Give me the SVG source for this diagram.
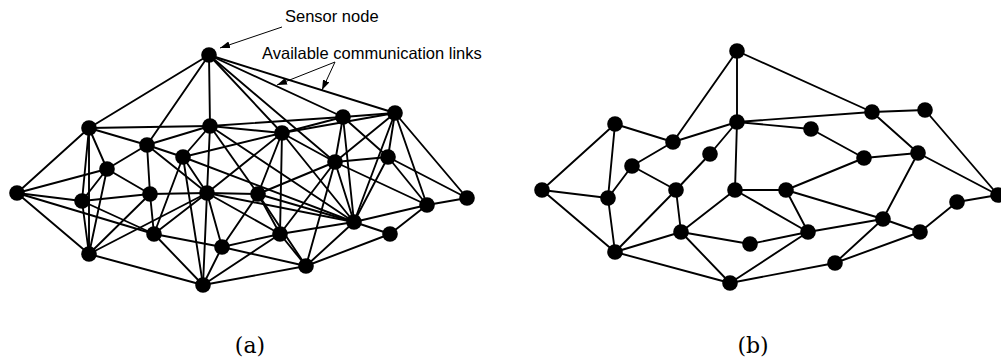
<svg xmlns="http://www.w3.org/2000/svg" width="1001" height="362" viewBox="0 0 1001 362">
<style>
.e line{stroke:#000;stroke-width:1.9;stroke-linecap:round}
.n circle{fill:#000}
.lbl{font-family:"Liberation Sans",Arial,sans-serif;font-size:16.5px;fill:#000}
.cap{font-family:"DejaVu Serif","Liberation Serif",serif;font-size:22px;fill:#000;text-anchor:middle}
.ann{stroke:#000;stroke-width:1;fill:none}
</style>
<defs>
<marker id="ah" markerWidth="10" markerHeight="7" refX="10" refY="3.5" orient="auto" markerUnits="userSpaceOnUse"><path d="M0,0 L10,3.5 L0,7 z" fill="#000"/></marker>
</defs>
<g id="connectors" class="e">
<line x1="209" y1="55" x2="89" y2="128"/><line x1="209" y1="55" x2="147" y2="145"/><line x1="209" y1="55" x2="210" y2="126"/><line x1="209" y1="55" x2="282" y2="133"/><line x1="209" y1="55" x2="335" y2="162"/><line x1="209" y1="55" x2="343" y2="117"/><line x1="209" y1="55" x2="395" y2="113"/>
<line x1="17" y1="193" x2="89" y2="128"/><line x1="17" y1="193" x2="107" y2="169"/><line x1="17" y1="193" x2="82" y2="201"/><line x1="17" y1="193" x2="154" y2="234"/><line x1="17" y1="193" x2="89" y2="254"/>
<line x1="89" y1="128" x2="147" y2="145"/><line x1="89" y1="128" x2="210" y2="126"/><line x1="89" y1="128" x2="107" y2="169"/><line x1="89" y1="128" x2="82" y2="201"/><line x1="89" y1="128" x2="89" y2="254"/>
<line x1="147" y1="145" x2="210" y2="126"/><line x1="147" y1="145" x2="107" y2="169"/><line x1="147" y1="145" x2="183" y2="157"/><line x1="147" y1="145" x2="150" y2="194"/><line x1="147" y1="145" x2="207" y2="193"/>
<line x1="210" y1="126" x2="183" y2="157"/><line x1="210" y1="126" x2="207" y2="193"/><line x1="210" y1="126" x2="282" y2="133"/><line x1="210" y1="126" x2="343" y2="117"/><line x1="210" y1="126" x2="258" y2="194"/><line x1="210" y1="126" x2="354" y2="222"/>
<line x1="107" y1="169" x2="82" y2="201"/><line x1="107" y1="169" x2="150" y2="194"/><line x1="107" y1="169" x2="89" y2="254"/>
<line x1="183" y1="157" x2="282" y2="133"/><line x1="183" y1="157" x2="207" y2="193"/><line x1="183" y1="157" x2="154" y2="234"/><line x1="183" y1="157" x2="203" y2="285"/><line x1="183" y1="157" x2="354" y2="222"/>
<line x1="82" y1="201" x2="150" y2="194"/><line x1="82" y1="201" x2="154" y2="234"/><line x1="82" y1="201" x2="89" y2="254"/>
<line x1="150" y1="194" x2="207" y2="193"/><line x1="150" y1="194" x2="154" y2="234"/><line x1="150" y1="194" x2="89" y2="254"/>
<line x1="207" y1="193" x2="154" y2="234"/><line x1="207" y1="193" x2="89" y2="254"/><line x1="207" y1="193" x2="222" y2="247"/><line x1="207" y1="193" x2="203" y2="285"/><line x1="207" y1="193" x2="282" y2="133"/><line x1="207" y1="193" x2="258" y2="194"/><line x1="207" y1="193" x2="354" y2="222"/><line x1="207" y1="193" x2="280" y2="234"/>
<line x1="154" y1="234" x2="222" y2="247"/><line x1="154" y1="234" x2="203" y2="285"/>
<line x1="89" y1="254" x2="203" y2="285"/>
<line x1="222" y1="247" x2="203" y2="285"/><line x1="222" y1="247" x2="258" y2="194"/><line x1="222" y1="247" x2="280" y2="234"/><line x1="222" y1="247" x2="306" y2="266"/>
<line x1="203" y1="285" x2="280" y2="234"/><line x1="203" y1="285" x2="306" y2="266"/>
<line x1="282" y1="133" x2="343" y2="117"/><line x1="282" y1="133" x2="395" y2="113"/><line x1="282" y1="133" x2="335" y2="162"/><line x1="282" y1="133" x2="258" y2="194"/><line x1="282" y1="133" x2="354" y2="222"/><line x1="282" y1="133" x2="280" y2="234"/>
<line x1="343" y1="117" x2="395" y2="113"/><line x1="343" y1="117" x2="335" y2="162"/><line x1="343" y1="117" x2="388" y2="157"/><line x1="343" y1="117" x2="354" y2="222"/>
<line x1="395" y1="113" x2="335" y2="162"/><line x1="395" y1="113" x2="388" y2="157"/><line x1="395" y1="113" x2="354" y2="222"/><line x1="395" y1="113" x2="427" y2="205"/><line x1="395" y1="113" x2="467" y2="198"/>
<line x1="335" y1="162" x2="388" y2="157"/><line x1="335" y1="162" x2="258" y2="194"/><line x1="335" y1="162" x2="354" y2="222"/><line x1="335" y1="162" x2="427" y2="205"/><line x1="335" y1="162" x2="280" y2="234"/><line x1="335" y1="162" x2="306" y2="266"/>
<line x1="388" y1="157" x2="354" y2="222"/><line x1="388" y1="157" x2="427" y2="205"/><line x1="388" y1="157" x2="467" y2="198"/>
<line x1="258" y1="194" x2="354" y2="222"/><line x1="258" y1="194" x2="280" y2="234"/><line x1="258" y1="194" x2="306" y2="266"/>
<line x1="354" y1="222" x2="427" y2="205"/><line x1="354" y1="222" x2="280" y2="234"/><line x1="354" y1="222" x2="390" y2="234"/><line x1="354" y1="222" x2="306" y2="266"/>
<line x1="427" y1="205" x2="467" y2="198"/><line x1="427" y1="205" x2="390" y2="234"/>
<line x1="280" y1="234" x2="306" y2="266"/><line x1="390" y1="234" x2="306" y2="266"/>
<line x1="737" y1="51" x2="737" y2="122"/><line x1="737" y1="51" x2="673" y2="142"/><line x1="737" y1="51" x2="872" y2="112"/>
<line x1="615" y1="124" x2="673" y2="142"/><line x1="615" y1="124" x2="542" y2="190"/><line x1="615" y1="124" x2="608" y2="198"/>
<line x1="673" y1="142" x2="737" y2="122"/><line x1="673" y1="142" x2="632" y2="166"/>
<line x1="737" y1="122" x2="710" y2="154"/><line x1="737" y1="122" x2="735" y2="190"/><line x1="737" y1="122" x2="872" y2="112"/><line x1="737" y1="122" x2="811" y2="129"/>
<line x1="710" y1="154" x2="676" y2="190"/>
<line x1="632" y1="166" x2="608" y2="198"/><line x1="632" y1="166" x2="676" y2="190"/>
<line x1="542" y1="190" x2="608" y2="198"/><line x1="542" y1="190" x2="615" y2="252"/>
<line x1="608" y1="198" x2="615" y2="252"/>
<line x1="676" y1="190" x2="681" y2="232"/><line x1="676" y1="190" x2="615" y2="252"/>
<line x1="735" y1="190" x2="786" y2="190"/><line x1="735" y1="190" x2="681" y2="232"/><line x1="735" y1="190" x2="808" y2="232"/>
<line x1="681" y1="232" x2="750" y2="244"/><line x1="681" y1="232" x2="730" y2="283"/><line x1="681" y1="232" x2="615" y2="252"/>
<line x1="615" y1="252" x2="730" y2="283"/>
<line x1="750" y1="244" x2="808" y2="232"/>
<line x1="730" y1="283" x2="808" y2="232"/><line x1="730" y1="283" x2="835" y2="263"/>
<line x1="872" y1="112" x2="925" y2="110"/><line x1="872" y1="112" x2="918" y2="153"/>
<line x1="925" y1="110" x2="998" y2="195"/>
<line x1="811" y1="129" x2="864" y2="158"/>
<line x1="864" y1="158" x2="918" y2="153"/><line x1="864" y1="158" x2="786" y2="190"/>
<line x1="918" y1="153" x2="883" y2="219"/><line x1="918" y1="153" x2="998" y2="195"/>
<line x1="786" y1="190" x2="808" y2="232"/><line x1="786" y1="190" x2="883" y2="219"/>
<line x1="808" y1="232" x2="883" y2="219"/>
<line x1="883" y1="219" x2="920" y2="232"/><line x1="883" y1="219" x2="835" y2="263"/>
<line x1="920" y1="232" x2="957" y2="202"/><line x1="920" y1="232" x2="835" y2="263"/>
<line x1="957" y1="202" x2="998" y2="195"/>
</g>
<g class="n">
<g id="top"><circle cx="209" cy="55" r="7.8"/></g>
<g id="nA"><circle cx="17" cy="193" r="7.8"/></g>
<g id="nB"><circle cx="89" cy="128" r="7.8"/></g>
<g id="nC"><circle cx="147" cy="145" r="7.8"/></g>
<g id="nD"><circle cx="210" cy="126" r="7.8"/></g>
<g id="nE"><circle cx="107" cy="169" r="7.8"/></g>
<g id="nF"><circle cx="183" cy="157" r="7.8"/></g>
<g id="nG"><circle cx="82" cy="201" r="7.8"/></g>
<g id="nH"><circle cx="150" cy="194" r="7.8"/></g>
<g id="nI"><circle cx="207" cy="193" r="7.8"/></g>
<g id="nJ"><circle cx="154" cy="234" r="7.8"/></g>
<g id="nK"><circle cx="89" cy="254" r="7.8"/></g>
<g id="nL"><circle cx="222" cy="247" r="7.8"/></g>
<g id="nM"><circle cx="203" cy="285" r="7.8"/></g>
<g id="nN"><circle cx="282" cy="133" r="7.8"/></g>
<g id="nO"><circle cx="343" cy="117" r="7.8"/></g>
<g id="nP"><circle cx="395" cy="113" r="7.8"/></g>
<g id="nQ"><circle cx="335" cy="162" r="7.8"/></g>
<g id="nR"><circle cx="388" cy="157" r="7.8"/></g>
<g id="nS"><circle cx="258" cy="194" r="7.8"/></g>
<g id="nT"><circle cx="354" cy="222" r="7.8"/></g>
<g id="nU"><circle cx="427" cy="205" r="7.8"/></g>
<g id="nV"><circle cx="467" cy="198" r="7.8"/></g>
<g id="nW"><circle cx="280" cy="234" r="7.8"/></g>
<g id="nX"><circle cx="390" cy="234" r="7.8"/></g>
<g id="nY"><circle cx="306" cy="266" r="7.8"/></g>
<g id="ra"><circle cx="737" cy="51" r="7.8"/></g>
<g id="rb"><circle cx="615" cy="124" r="7.8"/></g>
<g id="rc"><circle cx="673" cy="142" r="7.8"/></g>
<g id="rd"><circle cx="737" cy="122" r="7.8"/></g>
<g id="re"><circle cx="710" cy="154" r="7.8"/></g>
<g id="rf"><circle cx="632" cy="166" r="7.8"/></g>
<g id="rg"><circle cx="542" cy="190" r="7.8"/></g>
<g id="rh"><circle cx="608" cy="198" r="7.8"/></g>
<g id="ri"><circle cx="676" cy="190" r="7.8"/></g>
<g id="rj"><circle cx="735" cy="190" r="7.8"/></g>
<g id="rk"><circle cx="681" cy="232" r="7.8"/></g>
<g id="rl"><circle cx="615" cy="252" r="7.8"/></g>
<g id="rm"><circle cx="750" cy="244" r="7.8"/></g>
<g id="rn"><circle cx="730" cy="283" r="7.8"/></g>
<g id="ro"><circle cx="872" cy="112" r="7.8"/></g>
<g id="rp"><circle cx="925" cy="110" r="7.8"/></g>
<g id="rq"><circle cx="811" cy="129" r="7.8"/></g>
<g id="rr"><circle cx="864" cy="158" r="7.8"/></g>
<g id="rs"><circle cx="918" cy="153" r="7.8"/></g>
<g id="rt"><circle cx="786" cy="190" r="7.8"/></g>
<g id="ru"><circle cx="808" cy="232" r="7.8"/></g>
<g id="rv"><circle cx="883" cy="219" r="7.8"/></g>
<g id="rw"><circle cx="920" cy="232" r="7.8"/></g>
<g id="rx"><circle cx="957" cy="202" r="7.8"/></g>
<g id="ry"><circle cx="998" cy="195" r="7.8"/></g>
<g id="rz"><circle cx="835" cy="263" r="7.8"/></g>
</g>
<g id="annotations">
<text class="lbl" x="285" y="22">Sensor node</text>
<line class="ann" x1="282" y1="27" x2="220" y2="48" marker-end="url(#ah)"/>
<text class="lbl" x="262" y="59">Available communication links</text>
<line class="ann" x1="335" y1="62" x2="277" y2="85" marker-end="url(#ah)"/>
<line class="ann" x1="335" y1="62" x2="322" y2="90" marker-end="url(#ah)"/>
</g>
<text class="cap" x="250" y="353">(a)</text>
<text class="cap" x="753" y="353">(b)</text>
</svg>
